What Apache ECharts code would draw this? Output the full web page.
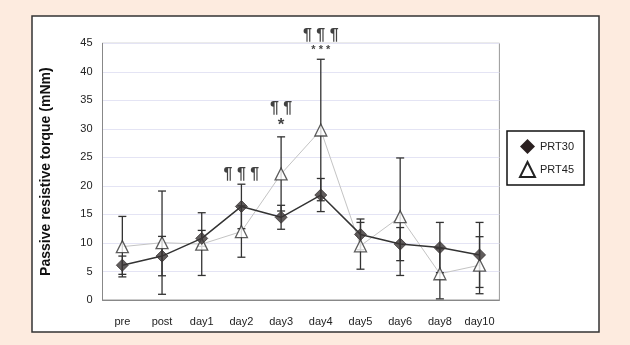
<!DOCTYPE html>
<html>
<head>
<meta charset="utf-8">
<script src="https://cdn.jsdelivr.net/npm/echarts@6/dist/echarts.min.js"></script>
<style>
html,body{margin:0;padding:0;background:#FDEBDF;}
#main{width:630px;height:345px;}
</style>
</head>
<body>
<div id="main"></div>
<script>
const categories = ['pre','post','day1','day2','day3','day4','day5','day6','day8','day10'];
const prt30 = [6.1, 7.7, 10.8, 16.4, 14.5, 18.4, 11.5, 9.8, 9.2, 7.9];
const prt45 = [9.35, 10.05, 9.8, 12.0, 22.1, 29.8, 9.5, 14.6, 4.6, 6.1];
const sd30 = [1.6, 3.45, 1.4, 3.9, 2.1, 2.9, 2.7, 2.9, 4.4, 5.7];
const sd45 = [5.3, 9.05, 5.5, 4.5, 6.5, 12.4, 4.1, 10.3, 4.4, 5.0];
const yTicks = [0, 5, 10, 15, 20, 25, 30, 35, 40, 45];
const annotCats = ['day2', 'day3', 'day3', 'day4', 'day4'];
const annotValues = [21.9, 33.5, 30.6, 46.3, 43.9];
const annotTexts = ['¶ ¶ ¶', '¶ ¶', '*', '¶ ¶ ¶', '* * *'];

const font = '"Liberation Sans Narrow","Liberation Sans",Arial,sans-serif';
const chart = echarts.init(document.getElementById('main'));

function errData(means, sds) {
  return means.map((m, i) => [i, m - sds[i], m + sds[i]]);
}
function errRender(params, api) {
  const x = api.value(0);
  const top = api.coord([x, api.value(2)]);
  const bot = api.coord([x, api.value(1)]);
  const hw = 4;
  const st = {stroke: '#333', lineWidth: 1.3};
  return {type: 'group', children: [
    {type: 'line', shape: {x1: top[0], y1: top[1], x2: bot[0], y2: bot[1]}, style: st},
    {type: 'line', shape: {x1: top[0]-hw, y1: top[1], x2: top[0]+hw, y2: top[1]}, style: st},
    {type: 'line', shape: {x1: bot[0]-hw, y1: bot[1], x2: bot[0]+hw, y2: bot[1]}, style: st}
  ]};
}

const annotData = annotCats.map((c, i) => ({
  value: [c, annotValues[i]],
  label: {formatter: annotTexts[i], fontSize: annotTexts[i] === '*' ? 17 : (annotTexts[i] === '* * *' ? 11 : 16)}
}));

chart.setOption({
  backgroundColor: '#FDEBDF',
  animation: false,
  graphic: [{
    type: 'rect', z: -10, silent: true,
    shape: {x: 32, y: 16, width: 567, height: 316},
    style: {fill: '#fff', stroke: '#333', lineWidth: 1.5}
  }],
  grid: {left: 102.5, right: 130.6, top: 43.3, bottom: 45, show: true, borderColor: '#999', borderWidth: 1, backgroundColor: '#fff'},
  legend: {
    orient: 'vertical', left: 507, top: 131,
    padding: [8, 10, 7, 12], itemGap: 7, itemWidth: 15, itemHeight: 15,
    borderColor: '#111', borderWidth: 1.5, backgroundColor: '#fff',
    textStyle: {fontFamily: font, fontSize: 11, color: '#222'},
    data: [
      {name: 'PRT30', icon: 'diamond'},
      {name: 'PRT45', icon: 'triangle'}
    ]
  },
  xAxis: {
    type: 'category', data: categories, boundaryGap: true,
    axisLine: {lineStyle: {color: '#888'}},
    axisTick: {inside: true, length: 4, lineStyle: {color: '#888'}},
    axisLabel: {fontFamily: font, fontSize: 11, color: '#222', margin: 16},
    splitLine: {show: false}
  },
  yAxis: {
    type: 'value', min: yTicks[0], max: yTicks[yTicks.length-1], interval: 5,
    name: 'Passive resistive torque (mNm)', nameLocation: 'middle', nameGap: 49, nameRotate: 90,
    nameTextStyle: {fontFamily: '"Liberation Sans",Arial,sans-serif', fontWeight: 'bold', fontSize: 14, color: '#111'},
    axisLine: {show: true, lineStyle: {color: '#888'}},
    axisTick: {show: false},
    axisLabel: {fontFamily: font, fontSize: 11, color: '#222', margin: 10},
    splitLine: {lineStyle: {color: '#e4e4f4', width: 1.2}}
  },
  series: [
    {name: 'PRT45', type: 'line', data: prt45, z: 2, symbol: 'none',
     lineStyle: {color: '#c4c4c4', width: 1}, itemStyle: {color: '#fff', borderColor: '#222', borderWidth: 1.5}},
    {name: 'PRT30', type: 'line', data: prt30, z: 3, symbol: 'none',
     lineStyle: {color: '#333', width: 1.5}, itemStyle: {color: '#2a2020'}},
    {name: 'err30', type: 'custom', data: errData(prt30, sd30), renderItem: errRender, z: 4, silent: true},
    {name: 'err45', type: 'custom', data: errData(prt45, sd45), renderItem: errRender, z: 4, silent: true},
    {name: 'PRT45', type: 'scatter', data: prt45, z: 6, symbol: 'triangle', symbolSize: 12,
     itemStyle: {color: '#fff', borderColor: '#333', borderWidth: 1.3}},
    {name: 'PRT30', type: 'scatter', data: prt30, z: 7, symbol: 'diamond', symbolSize: 12,
     itemStyle: {color: '#3a3434', borderColor: '#3a3434'}},
    {name: 'annot', type: 'scatter', data: annotData, symbolSize: 0, clip: false, z: 8, silent: true,
     label: {show: true, position: 'inside', color: '#111', fontFamily: font, fontWeight: 'bold'}}
  ]
});
</script>
</body>
</html>
